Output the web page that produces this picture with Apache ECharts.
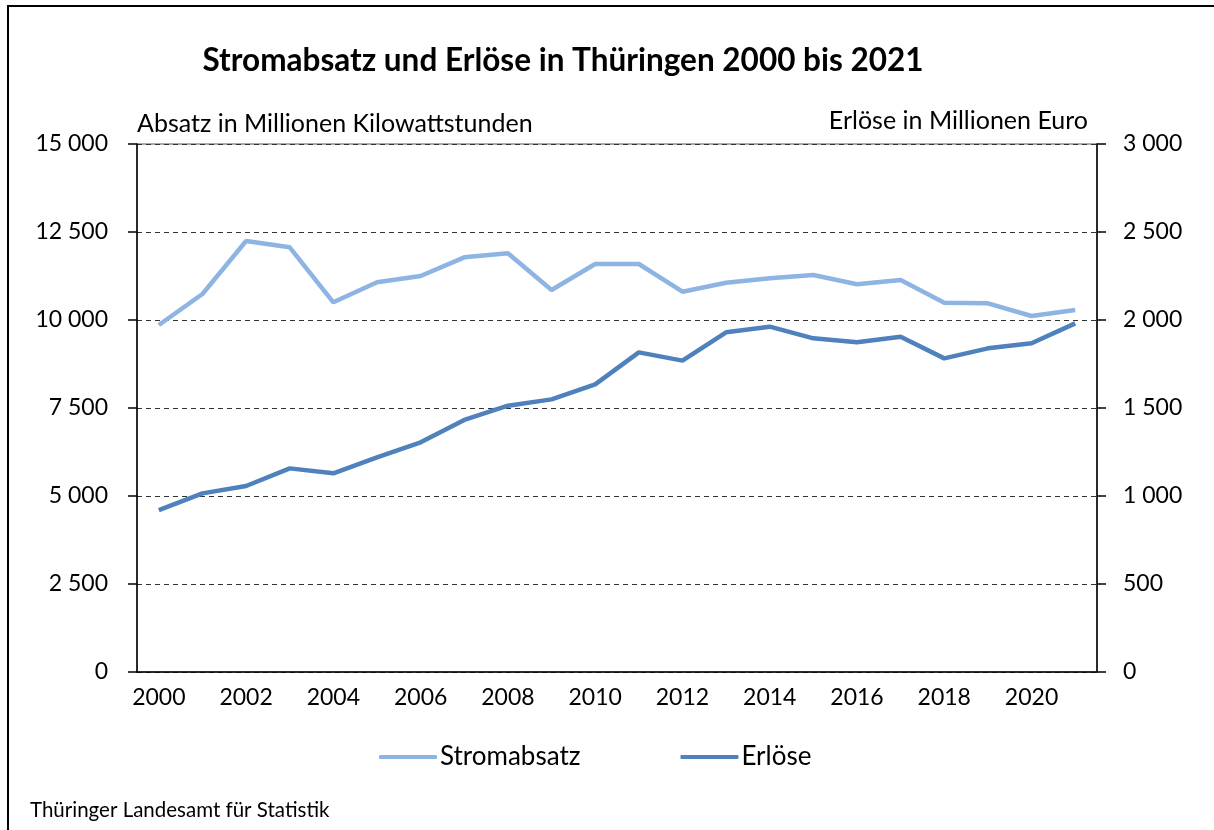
<!DOCTYPE html>
<html>
<head>
<meta charset="utf-8">
<script src="https://cdn.jsdelivr.net/npm/echarts@6/dist/echarts.min.js"></script>
<style>html,body{margin:0;padding:0;background:#fff;}#c{width:1214px;height:830px;}</style>
</head>
<body>
<div id="c"></div>
<script>
const years = ['2000','2001','2002','2003','2004','2005','2006','2007','2008','2009','2010','2011','2012','2013','2014','2015','2016','2017','2018','2019','2020','2021'];
const stromabsatz = [9858,10739,12244,12065,10503,11071,11250,11781,11895,10852,11591,11591,10804,11060,11185,11278,11014,11136,10491,10474,10114,10284];
const erloese = [920,1015,1057,1157,1129,1220,1305,1432,1513,1549,1634,1816,1769,1930,1962,1896,1873,1905,1782,1839,1868,1981];
const leftTicks = {min:0, max:15000, interval:2500};
const rightTicks = {min:0, max:3000, interval:500};

const FONT = 'Lato';
const fmt = v => String(v).replace(/\B(?=(\d{3})+(?!\d))/g, ' ');
const chart = echarts.init(document.getElementById('c'), null, {renderer:'canvas'});
chart.setOption({
  backgroundColor:'#fff',
  animation:false,
  textStyle:{fontFamily:FONT},
  title:{
    text:'Stromabsatz und Erlöse in Thüringen 2000 bis 2021',
    left:558, top:40, textAlign:'center',
    textStyle:{fontFamily:FONT, fontSize:31.5, fontWeight:'bold', color:'#000'}
  },
  graphic:[
    {type:'rect', shape:{x:8, y:6, width:1300, height:900}, style:{fill:'none', stroke:'#000', lineWidth:2}, silent:true},
    {type:'text', left:137, top:111, style:{text:'Absatz in Millionen Kilowattstunden', fontFamily:FONT, fontSize:25, fill:'#000'}},
    {type:'text', right:126, top:108, style:{text:'Erlöse in Millionen Euro', fontFamily:FONT, fontSize:25, fill:'#000', align:'right'}},
    {type:'text', left:30, top:800, style:{text:'Thüringer Landesamt für Statistik', fontFamily:FONT, fontSize:20.5, fill:'#000'}}
  ],
  legend:{
    left:374, top:739, itemWidth:58, itemHeight:4, itemGap:100,
    icon:'roundRect',
    textStyle:{fontFamily:FONT, fontSize:26, color:'#000', padding:[0,0,0,-2]},
    data:['Stromabsatz','Erlöse']
  },
  grid:{left:137, right:117, top:144, bottom:158, show:true, borderColor:'#555', borderWidth:1},
  xAxis:{
    type:'category', data:years, boundaryGap:true,
    axisLine:{lineStyle:{color:'#000', width:1.5}},
    axisTick:{show:false},
    axisLabel:{interval:1, margin:14, fontFamily:FONT, fontSize:23, color:'#000'}
  },
  yAxis:[
    {type:'value', position:'left', min:leftTicks.min, max:leftTicks.max, interval:leftTicks.interval,
     axisLine:{show:true, lineStyle:{color:'#000', width:1.5}},
     axisTick:{show:true, length:9, lineStyle:{color:'#000', width:1.5}},
     axisLabel:{margin:29, fontFamily:FONT, fontSize:23, color:'#000', formatter:fmt},
     splitLine:{show:true, lineStyle:{color:'#333', type:[5,4], width:1}}},
    {type:'value', position:'right', min:rightTicks.min, max:rightTicks.max, interval:rightTicks.interval,
     axisLine:{show:true, lineStyle:{color:'#000', width:1.5}},
     axisTick:{show:true, length:9, lineStyle:{color:'#000', width:1.5}},
     axisLabel:{margin:26, fontFamily:FONT, fontSize:23, color:'#000', formatter:fmt},
     splitLine:{show:false}}
  ],
  series:[
    {name:'Stromabsatz', type:'line', yAxisIndex:0, data:stromabsatz, symbol:'none',
     lineStyle:{color:'#8DB4E2', width:4.5}, itemStyle:{color:'#8DB4E2'}},
    {name:'Erlöse', type:'line', yAxisIndex:1, data:erloese, symbol:'none',
     lineStyle:{color:'#4F81BD', width:4.5}, itemStyle:{color:'#4F81BD'}}
  ]
});
</script>
</body>
</html>
